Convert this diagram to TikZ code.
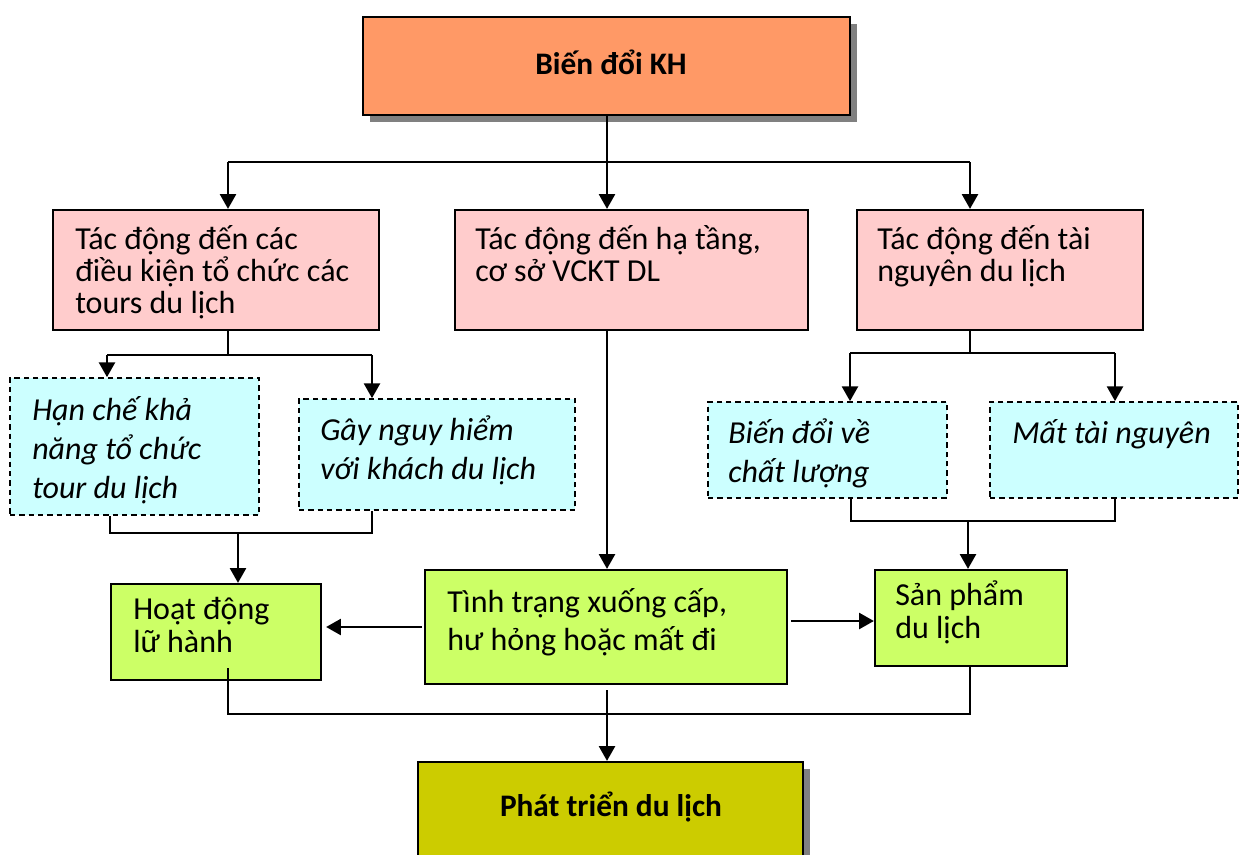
\documentclass[tikz,border=0pt]{standalone}
\usepackage{fontspec}
\setmainfont{Carlito}
\usetikzlibrary{arrows.meta,fit,shadows}
\definecolor{topfill}{HTML}{FF9966}
\definecolor{pinkfill}{HTML}{FFCCCC}
\definecolor{cyanfill}{HTML}{CCFFFF}
\definecolor{limefill}{HTML}{CCFF66}
\definecolor{olivefill}{HTML}{CCCC00}
\definecolor{shadowgray}{HTML}{808080}
\tikzset{
  boxbase/.style={rectangle, draw=black, line width=1.7pt, inner sep=0pt},
  mainbox/.style={boxbase, fill=#1,
    drop shadow={shadow xshift=5pt, shadow yshift=-5pt, fill=shadowgray, opacity=1}},
  solidbox/.style={boxbase, fill=#1},
  dashbox/.style={rectangle, draw=black, line width=1.3pt, inner sep=0pt,
    fill=cyanfill, dash pattern=on 4pt off 3pt},
  % multi-line texts are placed by the baseline of their last line
  pinktext/.style={anchor=base west, align=left, inner sep=0pt,
    font=\fontsize{24}{24}\selectfont},
  italictext/.style={anchor=base west, align=left, inner sep=0pt,
    font=\fontsize{24}{29}\selectfont\itshape},
  greentext/.style={anchor=base west, align=left, inner sep=0pt,
    font=\fontsize{24}{24.5}\selectfont},
  titletext/.style={anchor=base, inner sep=0pt,
    font=\fontsize{23.5}{24}\selectfont\bfseries},
  link/.style={draw=black, line width=1.5pt},
  arrowlink/.style={link, -{Triangle[length=11pt,width=12pt]}},
}
\begin{document}
\begin{tikzpicture}[x=0.75pt,y=-0.75pt]
\useasboundingbox (0,0) rectangle (1239,854);

% --- boxes ---
\node[mainbox=topfill, fit={(363,17)(850,115)}] (kh) {};
\node[titletext] (khtext) at (611,74) {Biến đổi KH};

\node[solidbox=pinkfill, fit={(53,210)(379,330)}] (c1) {};
\node[solidbox=pinkfill, fit={(455,210)(808,330)}] (c2) {};
\node[solidbox=pinkfill, fit={(857,210)(1143,330)}] (c3) {};
\node[pinktext] (c1text) at (75,313) {Tác động đến các\\điều kiện tổ chức các\\tours du lịch};
\node[pinktext] (c2text) at (475,281) {Tác động đến hạ tầng,\\cơ sở VCKT DL};
\node[pinktext] (c3text) at (877,281) {Tác động đến tài\\nguyên du lịch};

\node[dashbox, fit={(10,378)(259,515)}] (d1) {};
\node[dashbox, fit={(299,399)(575,510)}] (d2) {};
\node[dashbox, fit={(708,402)(947,498)}] (d3) {};
\node[dashbox, fit={(990,402)(1238,498)}] (d4) {};
\node[italictext] (d1text) at (32,498) {Hạn chế khả\\năng tổ chức\\tour du lịch};
\node[italictext] (d2text) at (320,479) {Gây nguy hiểm\\với khách du lịch};
\node[italictext] (d3text) at (728,482) {Biến đổi về\\chất lượng};
\node[italictext] (d4text) at (1012,443) {Mất tài nguyên};

\node[solidbox=limefill, fit={(111,584)(321,680)}] (g1) {};
\node[solidbox=limefill, fit={(425,570)(787,684)}] (g2) {};
\node[solidbox=limefill, fit={(875,570)(1067,666)}] (g3) {};
\node[greentext] (g1text) at (133,652) {Hoạt động\\lữ hành};
\node[greentext, font=\fontsize{24}{28.5}\selectfont] (g2text) at (447,650) {Tình trạng xuống cấp,\\hư hỏng hoặc mất đi};
\node[greentext] (g3text) at (895,638) {Sản phẩm\\du lịch};

\node[mainbox=olivefill, fit={(418,762)(803,870)}] (dev) {};
\node[titletext] (devtext) at (611,816) {Phát triển du lịch};

% --- junction points ---
\coordinate (hub) at (607,162);
\coordinate (hubL) at (228,162);
\coordinate (hubR) at (970,162);

\coordinate (lsplit) at (228,355);
\coordinate (lsplitL) at (107,355);
\coordinate (lsplitR) at (372,355);
\coordinate (lmergeL) at (110,533);
\coordinate (lmergeR) at (372,533);
\coordinate (lmerge) at (238,533);

\coordinate (rsplit) at (970,353);
\coordinate (rsplitL) at (850,353);
\coordinate (rsplitR) at (1115,353);
\coordinate (rmergeL) at (851,521);
\coordinate (rmergeR) at (1115,521);
\coordinate (rmerge) at (968,521);

\coordinate (toleft) at (422,627);
\coordinate (toright) at (791,621);

\coordinate (bjoinL) at (228,714);
\coordinate (bjoinR) at (970,714);
\coordinate (bstart) at (607,690);
\coordinate (lstart) at (228,668);

% --- connectors ---
\draw[link] (kh.south -| hub) -- (hub);
\draw[link] (hubL) -- (hubR);
\draw[arrowlink] (hubL) -- (hubL |- c1.north);
\draw[arrowlink] (hub) -- (hub |- c2.north);
\draw[arrowlink] (hubR) -- (hubR |- c3.north);

\draw[link] (lsplit |- c1.south) -- (lsplit);
\draw[link] (lsplitL) -- (lsplitR);
\draw[arrowlink] (lsplitL) -- (lsplitL |- d1.north);
\draw[arrowlink] (lsplitR) -- (lsplitR |- d2.north);

\draw[link] (lmergeL |- d1.south) -- (lmergeL) -- (lmergeR) -- (lmergeR |- d2.south);
\draw[arrowlink] (lmerge) -- (lmerge |- g1.north);

\draw[link] (rsplit |- c3.south) -- (rsplit);
\draw[link] (rsplitL) -- (rsplitR);
\draw[arrowlink] (rsplitL) -- (rsplitL |- d3.north);
\draw[arrowlink] (rsplitR) -- (rsplitR |- d4.north);

\draw[link] (rmergeL |- d3.south) -- (rmergeL) -- (rmergeR) -- (rmergeR |- d4.south);
\draw[arrowlink] (rmerge) -- (rmerge |- g3.north);

\draw[arrowlink] (hub |- c2.south) -- (hub |- g2.north);

\draw[arrowlink] (toleft) -- ([xshift=3pt]toleft -| g1.east);
\draw[arrowlink] (toright) -- (toright -| g3.west);

\draw[link] (lstart) -- (bjoinL) -- (bjoinR) -- (bjoinR |- g3.south);
\draw[arrowlink] (bstart) -- (bstart |- dev.north);
\end{tikzpicture}
\end{document}
